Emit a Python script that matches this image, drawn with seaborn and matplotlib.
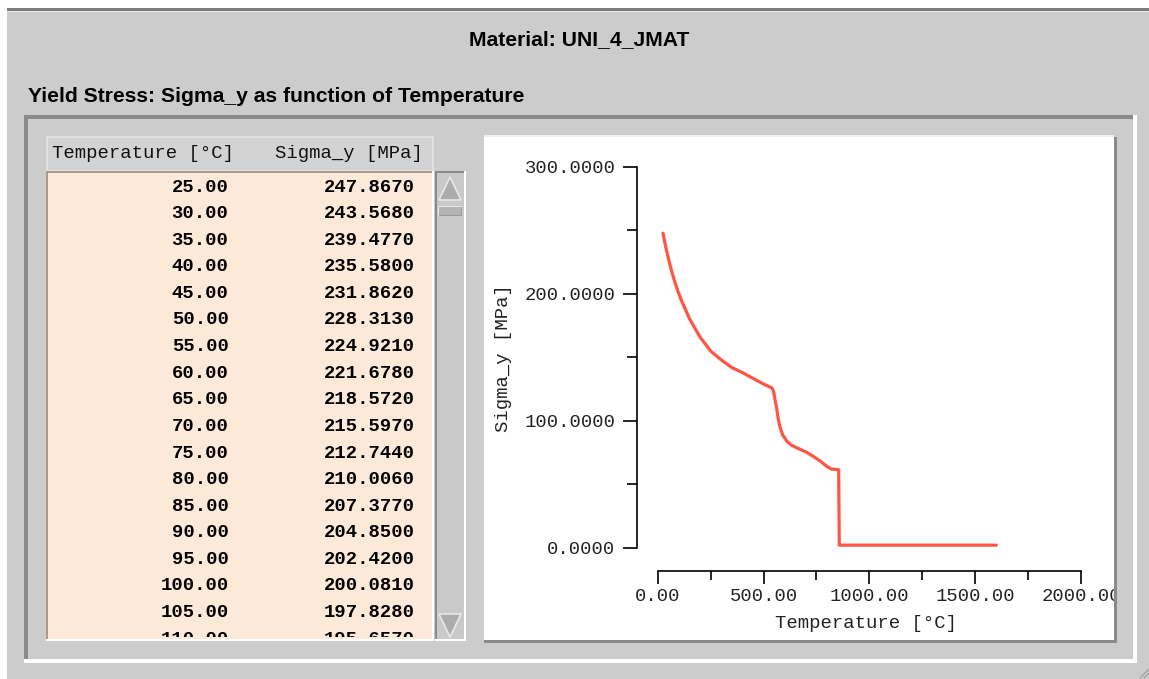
import matplotlib
matplotlib.use("Agg")
import matplotlib.pyplot as plt
import seaborn as sns
import pandas as pd
from matplotlib.patches import Rectangle, Polygon

# ---------------- data ----------------
table_temp = [25, 30, 35, 40, 45, 50, 55, 60, 65, 70, 75, 80, 85, 90, 95, 100, 105, 110]
table_sigma = [247.8670, 243.5680, 239.4770, 235.5800, 231.8620, 228.3130, 224.9210,
               221.6780, 218.5720, 215.5970, 212.7440, 210.0060, 207.3770, 204.8500,
               202.4200, 200.0810, 197.8280, 195.6570]

extra_temp = [150, 200, 250, 300, 350, 400, 450, 500, 540, 548, 555, 562, 570, 578, 590,
              610, 630, 660, 700, 735, 770, 800, 820, 855, 858, 1600]
extra_sigma = [180.5, 166.0, 155.0, 148.0, 142.0, 138.0, 133.5, 129.0, 125.8, 123.0, 116.0,
               110.0, 101.0, 95.0, 89.0, 84.0, 81.0, 78.5, 75.5, 72.0, 68.0, 64.0, 62.0,
               61.5, 2.0, 2.0]

curve_temp = table_temp + extra_temp
curve_sigma = table_sigma + extra_sigma

x_ticks = [0, 500, 1000, 1500, 2000]
x_tick_labels = ["0.00", "500.00", "1000.00", "1500.00", "2000.00"]
x_minor = [250, 750, 1250, 1750]
y_ticks = [0, 100, 200, 300]
y_tick_labels = ["0.0000", "100.0000", "200.0000", "300.0000"]
y_minor = [50, 150, 250]

main_title = "Material: UNI_4_JMAT"
sub_title = "Yield Stress: Sigma_y as function of Temperature"
col_headers = ["Temperature [°C]", "Sigma_y [MPa]"]
x_label = "Temperature [°C]"
y_label = "Sigma_y [MPa]"

# ---------------- style ----------------
W, H = 1149, 679
GRAY = "#cccccc"
DARK = "#8a8a8a"
PEACH = "#fde9d8"
TAN = "#ab9a8a"
RED = "#ff5544"
MONO = ["Liberation Mono", "DejaVu Sans Mono"]
SANS = ["Liberation Sans Narrow", "Liberation Sans", "DejaVu Sans"]
FS = 13.6

sns.set_style("white")
plt.rcParams["font.family"] = MONO


def frect(x0, y0, x1, y1):
    return [x0 / W, 1 - y1 / H, (x1 - x0) / W, (y1 - y0) / H]


fig = plt.figure(figsize=(W / 100, H / 100), dpi=100, facecolor=GRAY)

# background chrome in pixel coordinates
bg = fig.add_axes([0, 0, 1, 1], zorder=0)
bg.set_xlim(0, W)
bg.set_ylim(H, 0)
bg.set_axis_off()


def box(ax, x0, y0, x1, y1, **kw):
    ax.add_patch(Rectangle((x0, y0), x1 - x0, y1 - y0, lw=0, **kw))


box(bg, 0, 0, 7, H, fc="white")
box(bg, 0, 0, W, 8, fc="white")
box(bg, 7, 8, W, 10.5, fc="#7c7c7c")
box(bg, 7, 10.5, W, 12, fc="#e6e6e6")

# outer frame (sunken)
box(bg, 24, 115, 1137, 119, fc=DARK)
box(bg, 24, 115, 28, 663, fc=DARK)
box(bg, 24, 659, 1137, 663, fc="white")
box(bg, 1133, 115, 1137, 663, fc="white")

# table header
bg.add_patch(Rectangle((47, 137), 386, 34, fc="#d3d3d3", ec="#e4e4e4", lw=1.2))
# table body
box(bg, 46, 171, 434, 641, fc="white")
box(bg, 46, 171, 432, 639, fc=TAN)
box(bg, 48, 173, 432, 639, fc=PEACH)

# scrollbar
box(bg, 435, 171, 466, 641, fc="white")
box(bg, 435, 171, 464, 639, fc=DARK)
box(bg, 437, 173, 464, 639, fc="#c9c9c9")
bg.add_patch(Polygon([(450, 177), (439, 200), (461, 200)], closed=True,
                     fc="#acacac", ec="#e8e8e8", lw=1.2))
box(bg, 438, 206, 462, 216, fc="#e8e8e8")
box(bg, 439, 207, 462, 216, fc="#9a9a9a")
box(bg, 439, 207, 461, 215, fc="#b4b4b4")
bg.add_patch(Polygon([(439, 614), (461, 614), (450, 637)], closed=True,
                     fc="#acacac", ec="#e8e8e8", lw=1.2))

# plot box
box(bg, 484, 135, 1114, 137, fc="#f0f0f0")
box(bg, 484, 137, 1114, 640, fc="white")
box(bg, 484, 640, 1117, 643, fc=DARK)
box(bg, 1114, 137, 1117, 643, fc=DARK)

# resize grip
bg.plot([1140, 1149], [678, 669], color="#9a9a9a", lw=0.8)
bg.plot([1144, 1149], [678, 673], color="#9a9a9a", lw=0.8)

# titles
bg.text(579, 40, main_title, ha="center", va="center", fontsize=15.2,
        fontweight="bold", family=SANS, color="black")
bg.text(28, 97, sub_title, ha="left", va="center", fontsize=15.2,
        fontweight="bold", family=SANS, color="black")

# column headers
bg.text(52, 154, col_headers[0], ha="left", va="center", fontsize=FS, family=MONO, color="#111111")
bg.text(423, 154, col_headers[1], ha="right", va="center", fontsize=FS, family=MONO, color="#111111")

# table rows (row index as y coordinate)
row_h = 26.6
tab = fig.add_axes(frect(48, 173, 432, 637), zorder=1)
tab.set_xlim(48, 432)
tab.set_ylim((637 - 187) / row_h, (173 - 187) / row_h)
tab.set_axis_off()
for i, (t, s) in enumerate(zip(table_temp, table_sigma)):
    tab.text(228.5, i, f"{t:.2f}", ha="right", va="center", fontsize=FS,
             fontweight="bold", family=MONO, color="black", clip_on=True)
    tab.text(415, i, f"{s:.4f}", ha="right", va="center", fontsize=FS,
             fontweight="bold", family=MONO, color="black", clip_on=True)

# ---------------- the chart ----------------
xs = 423.3 / 2000.0
ys = 380.7 / 300.0
x0_px, y0_px = 657.7, 547.7
ax_l, ax_r, ax_t, ax_b = 637, 1081, 167, 570.7
ax = fig.add_axes(frect(ax_l, ax_t, ax_r, ax_b), zorder=2)
ax.patch.set_alpha(0)

df = pd.DataFrame({"Temperature": curve_temp, "Sigma": curve_sigma})
sns.lineplot(data=df, x="Temperature", y="Sigma", ax=ax, estimator=None, sort=False,
             color=RED, linewidth=2.3)

ax.set_xlim(-(x0_px - ax_l) / xs, 2000)
ax.set_ylim(-(ax_b - y0_px) / ys, 300)
for side in ["top", "right"]:
    ax.spines[side].set_visible(False)
ax.spines["left"].set_bounds(0, 300)
ax.spines["bottom"].set_bounds(0, 2000)
for side in ["left", "bottom"]:
    ax.spines[side].set_linewidth(1.2)
    ax.spines[side].set_color("black")

ax.set_xticks(x_ticks)
ax.set_xticklabels(x_tick_labels)
ax.set_xticks(x_minor, minor=True)
ax.set_yticks(y_ticks)
ax.set_yticklabels(y_tick_labels)
ax.set_yticks(y_minor, minor=True)
ax.tick_params(axis="both", which="both", direction="out", width=1.2, color="black",
               labelsize=FS, labelcolor="#222222")
ax.tick_params(axis="y", which="major", length=10, pad=5.5, left=True)
ax.tick_params(axis="y", which="minor", length=7, left=True)
ax.tick_params(axis="x", which="major", length=9.3, pad=3.5, bottom=True)
ax.tick_params(axis="x", which="minor", length=6.3, bottom=True)
for lab in ax.get_xticklabels() + ax.get_yticklabels():
    lab.set_family(MONO)

ax.set_xlabel(x_label, fontsize=FS, family=MONO, color="#222222", va="center")
ax.set_ylabel(y_label, fontsize=FS, family=MONO, color="#222222", va="center")
ax.xaxis.set_label_coords((866 - ax_l) / (ax_r - ax_l), (ax_b - 623) / (ax_b - ax_t))
ax.yaxis.set_label_coords((504 - ax_l) / (ax_r - ax_l), (ax_b - 358) / (ax_b - ax_t))

# overlay to clip the plot box at its right edge
ov = fig.add_axes(frect(1114, 137, 1133, 659), zorder=5)
ov.set_xlim(1114, 1133)
ov.set_ylim(659, 137)
ov.set_axis_off()
box(ov, 1114, 137, 1133, 659, fc=GRAY)
box(ov, 1114, 137, 1117, 643, fc=DARK)

fig.savefig("out.png", dpi=100, facecolor=GRAY)
